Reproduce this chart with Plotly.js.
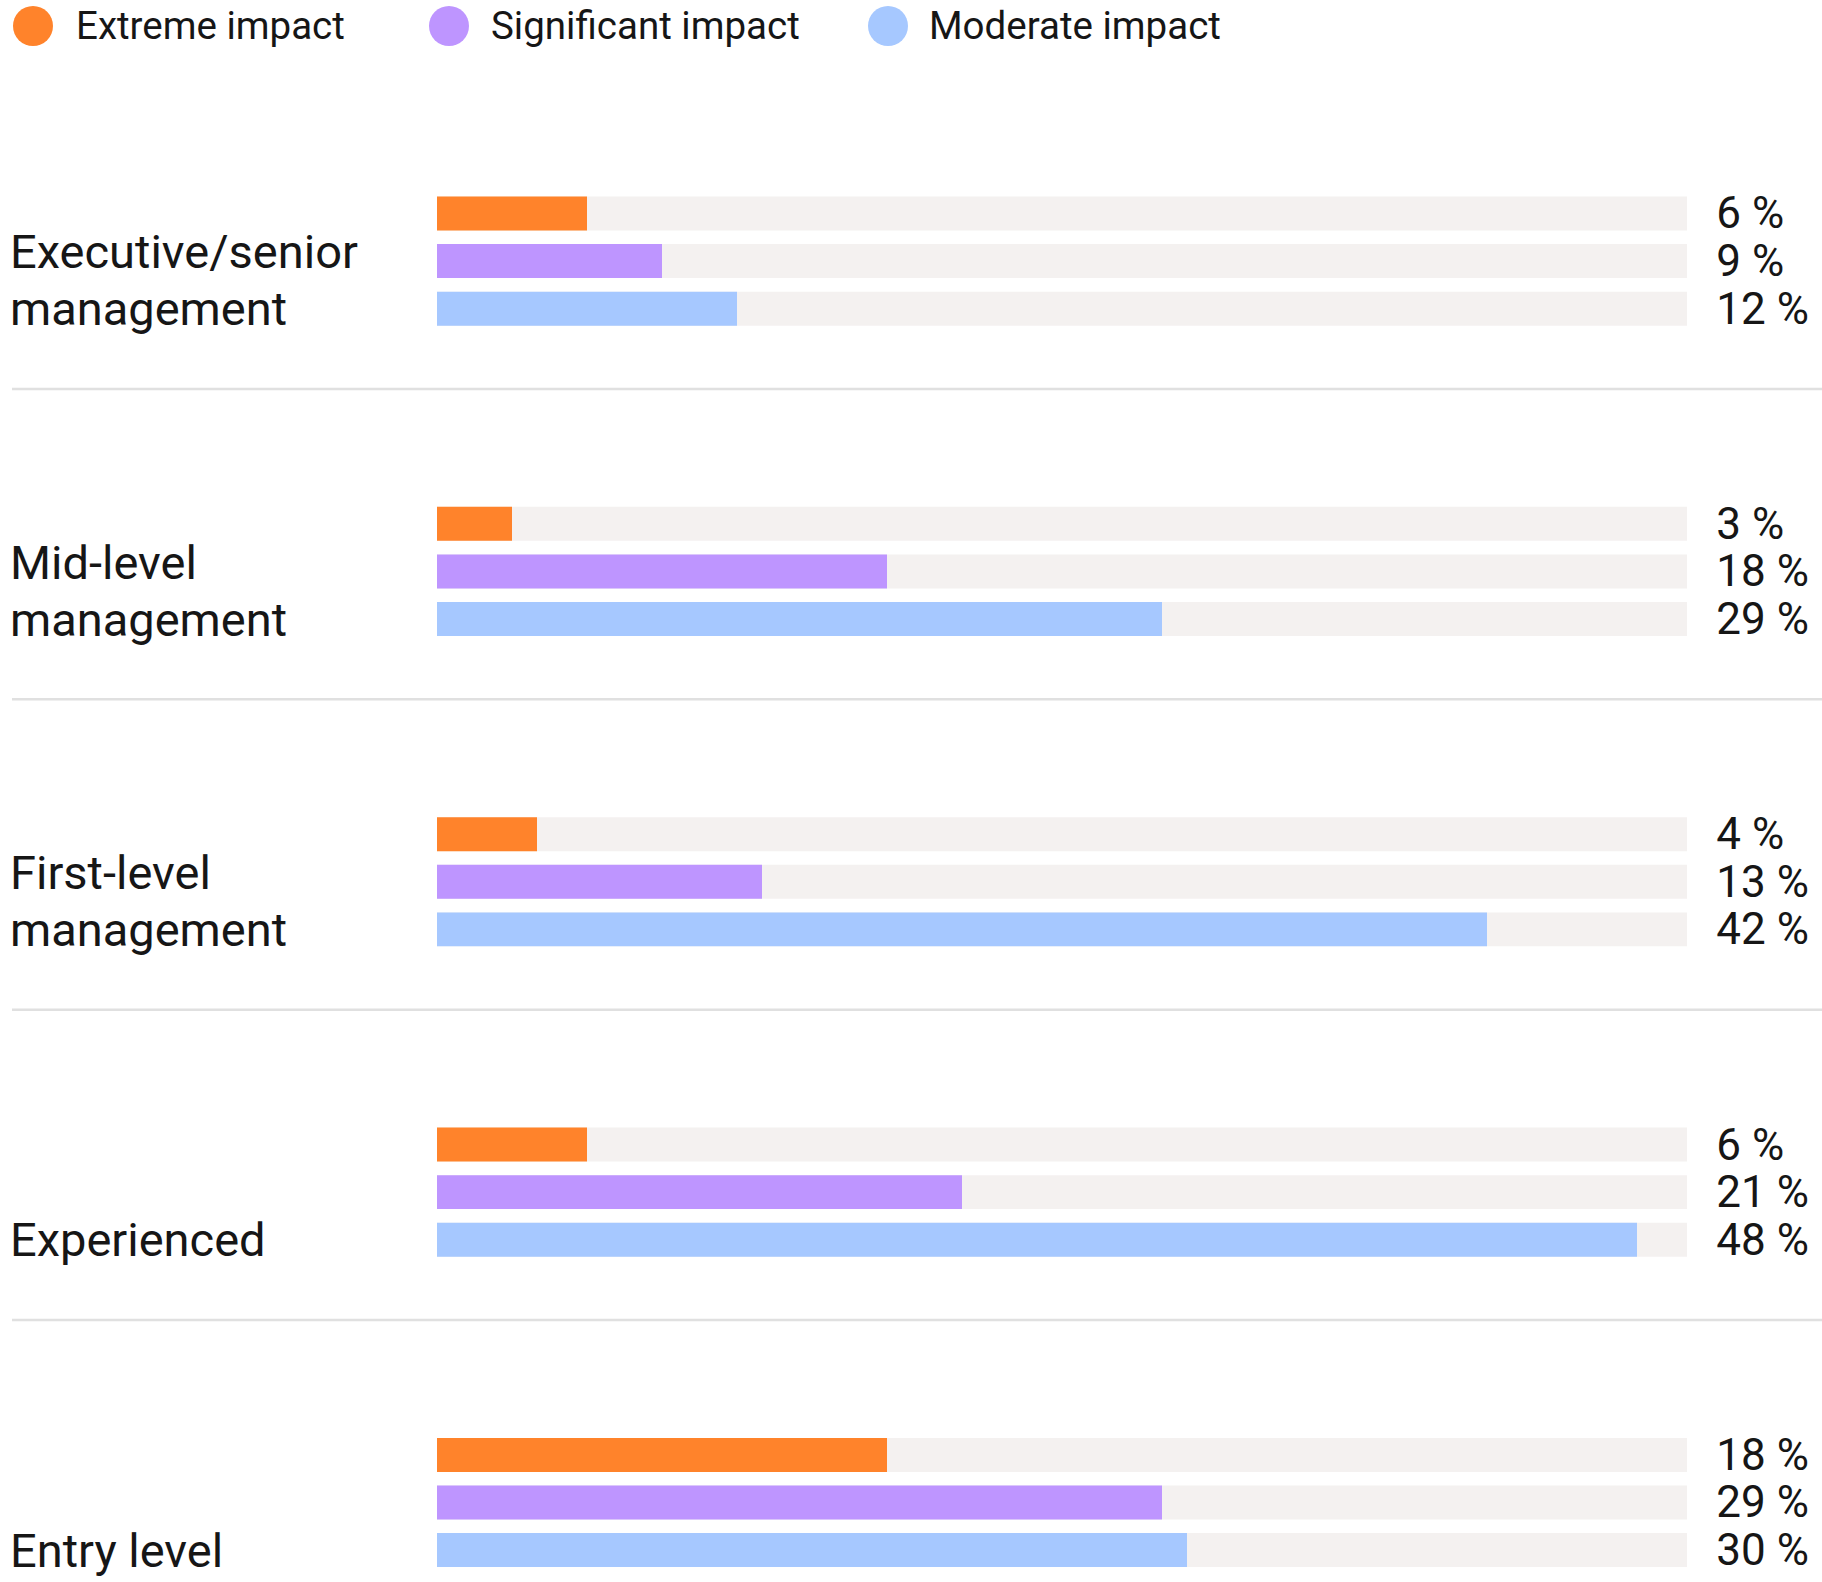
<!DOCTYPE html>
<html>
<head>
<meta charset="utf-8">
<script src="https://cdn.plot.ly/plotly-3.0.1.min.js"></script>
<style>html,body{margin:0;padding:0;background:#fff;}#chart{width:1822px;height:1582px;}</style>
</head>
<body>
<div id="chart"></div>
<script>
// ---- data ----
const categories = ["Executive/senior<br>management", "Mid-level<br>management", "First-level<br>management", "Experienced", "Entry level"];
const seriesNames = ["Extreme impact", "Significant impact", "Moderate impact"];
const extreme = [6, 3, 4, 6, 18];
const significant = [9, 18, 13, 21, 29];
const moderate = [12, 29, 42, 48, 30];
const scaleMax = 50;

// ---- style ----
const colors = ["#ff832b", "#be95ff", "#a6c8ff"];
const trackColor = "#f4f1f0";
const textColor = "#161616";
const FONT = "Roboto, 'Noto Sans', sans-serif";
const W = 1822, H = 1582;
const M = {l: 437, r: 135, t: 100, b: 10};
const PW = W - M.l - M.r, PH = H - M.t - M.b;
const px2x = p => (p - M.l) / PW;
const px2y = p => (H - M.b - p) / PH;

const catKeys = categories.map(c => c.replace("<br>", " "));
const series = [extreme, significant, moderate];
const yRange = [4.224, -0.519];
const bargap = 0.54, bargroupgap = 0.286;
const slotPx = (1 - bargap) / 3 * PH / (yRange[0] - yRange[1]);

const traces = [];
// background tracks (carry the value labels)
series.forEach((vals, j) => {
  traces.push({
    type: "bar", orientation: "h", yaxis: "y", xaxis: "x",
    y: catKeys, x: catKeys.map(() => scaleMax),
    marker: {color: trackColor}, showlegend: false, hoverinfo: "skip",
    text: vals.map(v => "\u00a0\u00a0\u200a" + v + "\u00a0%"),
    textposition: "outside", cliponaxis: false, constraintext: "none",
    outsidetextfont: {family: FONT, size: 44, color: textColor}
  });
});
// value bars
series.forEach((vals, j) => {
  traces.push({
    type: "bar", orientation: "h", yaxis: "y2", xaxis: "x",
    y: catKeys, x: vals, name: seriesNames[j],
    marker: {color: colors[j]}, showlegend: false, hoverinfo: "skip"
  });
});

const shapes = [];
const annotations = [];
// separators
for (let i = 0; i < catKeys.length - 1; i++) {
  shapes.push({type: "line", xref: "paper", yref: "y", x0: px2x(12), x1: px2x(1822),
    y0: i + 0.412, y1: i + 0.412, line: {color: "#e0e0e0", width: 2.5}, layer: "below"});
}
// category labels (last line aligned with last bar)
const lineGap = 57;
categories.forEach((c, i) => {
  const lines = c.split("<br>");
  lines.forEach((ln, k) => {
    annotations.push({xref: "paper", yref: "y", x: px2x(8), y: i, xanchor: "left", yanchor: "middle",
      yshift: -slotPx + (lines.length - 1 - k) * lineGap, text: ln, showarrow: false,
      font: {family: FONT, size: 47, color: textColor}});
  });
});
// legend
const legCircle = [33, 449, 888];
const legText = [74, 489, 927];
const legY = 26, legR = 20;
seriesNames.forEach((n, j) => {
  shapes.push({type: "circle", xref: "paper", yref: "paper",
    x0: px2x(legCircle[j] - legR), x1: px2x(legCircle[j] + legR),
    y0: px2y(legY + legR), y1: px2y(legY - legR),
    fillcolor: colors[j], line: {width: 0}});
  annotations.push({xref: "paper", yref: "paper", x: px2x(legText[j]), y: px2y(legY),
    xanchor: "left", yanchor: "middle", text: n, showarrow: false,
    font: {family: FONT, size: 38.5, color: textColor}});
});

const axisOff = {showgrid: false, zeroline: false, showticklabels: false, showline: false, ticks: ""};
const layout = {
  width: W, height: H, margin: M,
  paper_bgcolor: "#ffffff", plot_bgcolor: "#ffffff",
  barmode: "group", bargap: bargap, bargroupgap: bargroupgap,
  showlegend: false,
  xaxis: Object.assign({range: [0, scaleMax], fixedrange: true}, axisOff),
  yaxis: Object.assign({type: "category", categoryarray: catKeys, categoryorder: "array", range: yRange}, axisOff),
  yaxis2: Object.assign({type: "category", categoryarray: catKeys, categoryorder: "array", range: yRange, overlaying: "y"}, axisOff),
  shapes: shapes, annotations: annotations,
  font: {family: FONT, color: textColor}
};
Plotly.newPlot("chart", traces, layout, {displayModeBar: false, staticPlot: true});
</script>
</body>
</html>
